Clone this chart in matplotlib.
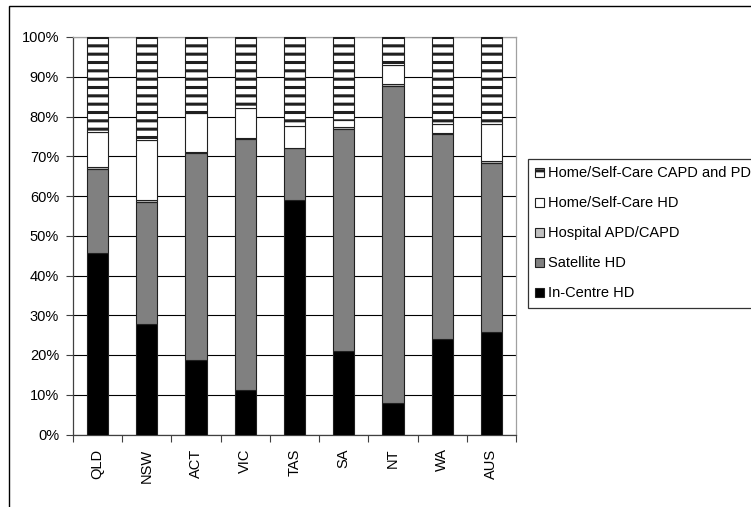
import matplotlib
matplotlib.use("Agg")
import matplotlib.pyplot as plt
from matplotlib.patches import Rectangle
import numpy as np

plt.rcParams['font.family'] = ['Liberation Sans', 'DejaVu Sans']
plt.rcParams['hatch.linewidth'] = 2.2
plt.rcParams['hatch.color'] = 'black'

states = ["QLD", "NSW", "ACT", "VIC", "TAS", "SA", "NT", "WA", "AUS"]

# Share of dialysis patients by treatment setting (%)
in_centre_hd = [45.7, 27.7, 18.7, 11.1, 59.0, 20.9, 7.8, 23.9, 25.7]
satellite_hd = [21.0, 30.9, 52.1, 63.2, 13.0, 56.0, 79.9, 51.6, 42.6]
hospital_apd_capd = [0.5, 0.5, 0.3, 0.4, 0.2, 0.4, 0.6, 0.3, 0.5]
home_hd = [9.0, 15.0, 9.9, 7.4, 5.5, 1.7, 4.7, 2.3, 9.3]
home_capd_pd = [23.8, 25.9, 19.0, 17.9, 22.3, 21.0, 7.0, 21.9, 21.9]

series = [
    ("In-Centre HD", in_centre_hd, dict(facecolor="black")),
    ("Satellite HD", satellite_hd, dict(facecolor="#808080")),
    ("Hospital APD/CAPD", hospital_apd_capd, dict(facecolor="#c0c0c0")),
    ("Home/Self-Care HD", home_hd, dict(facecolor="white")),
    ("Home/Self-Care CAPD and PD", home_capd_pd, dict(facecolor="white", hatch="--")),
]

FS = 10.5

fig = plt.figure(figsize=(7.51, 5.07), dpi=100)
ax = fig.add_axes([73 / 751, 1 - 434.5 / 507, (516 - 73) / 751, (434.5 - 37) / 507])

x = np.arange(len(states))
bottom = np.zeros(len(states))
handles = []
for name, vals, style in series:
    vals = np.array(vals)
    bars = ax.bar(x, vals, bottom=bottom, width=0.43, edgecolor="#202020",
                  linewidth=0.8, label=name, zorder=3, **style)
    handles.append(bars)
    bottom += vals

ax.set_xlim(-0.5, len(states) - 0.5)
ax.set_ylim(0, 100)
ax.set_yticks(np.arange(0, 101, 10))
ax.set_yticklabels([f"{v}%" for v in range(0, 101, 10)], fontsize=FS)
ax.yaxis.grid(True, color="black", linewidth=0.8, zorder=0)
ax.set_axisbelow(True)

ax.set_xticks(x)
ax.set_xticklabels(states, rotation=90, fontsize=FS)
ax.set_xticks(np.arange(-0.5, len(states), 1), minor=True)
ax.tick_params(axis="x", which="major", length=0, pad=10)
ax.tick_params(axis="x", which="minor", length=5, width=0.8, color="#404040", direction="out")
ax.tick_params(axis="y", length=5, width=0.8, color="#404040", direction="out", pad=5)

for side in ("left", "bottom"):
    ax.spines[side].set_color("#404040")
    ax.spines[side].set_linewidth(0.9)
for side in ("top", "right"):
    ax.spines[side].set_color("#a0a0a0")
    ax.spines[side].set_linewidth(0.9)

# Outer chart frame
fig.patches.append(Rectangle((9 / 751, -0.1), 1.2, 1 - 6 / 507 + 0.1,
                             transform=fig.transFigure, fill=False,
                             edgecolor="black", linewidth=1.0, zorder=0))

leg = fig.legend(handles[::-1], [s[0] for s in series][::-1],
                 loc="upper left", bbox_to_anchor=(528 / 751, 1 - 159 / 507),
                 borderaxespad=0, fancybox=False, frameon=True, fontsize=FS,
                 handlelength=0.6, handleheight=0.6, handletextpad=0.3,
                 labelspacing=1.1, borderpad=0.5)
leg.get_frame().set_edgecolor("black")
leg.get_frame().set_linewidth(0.9)

fig.savefig("out.png", dpi=100)
